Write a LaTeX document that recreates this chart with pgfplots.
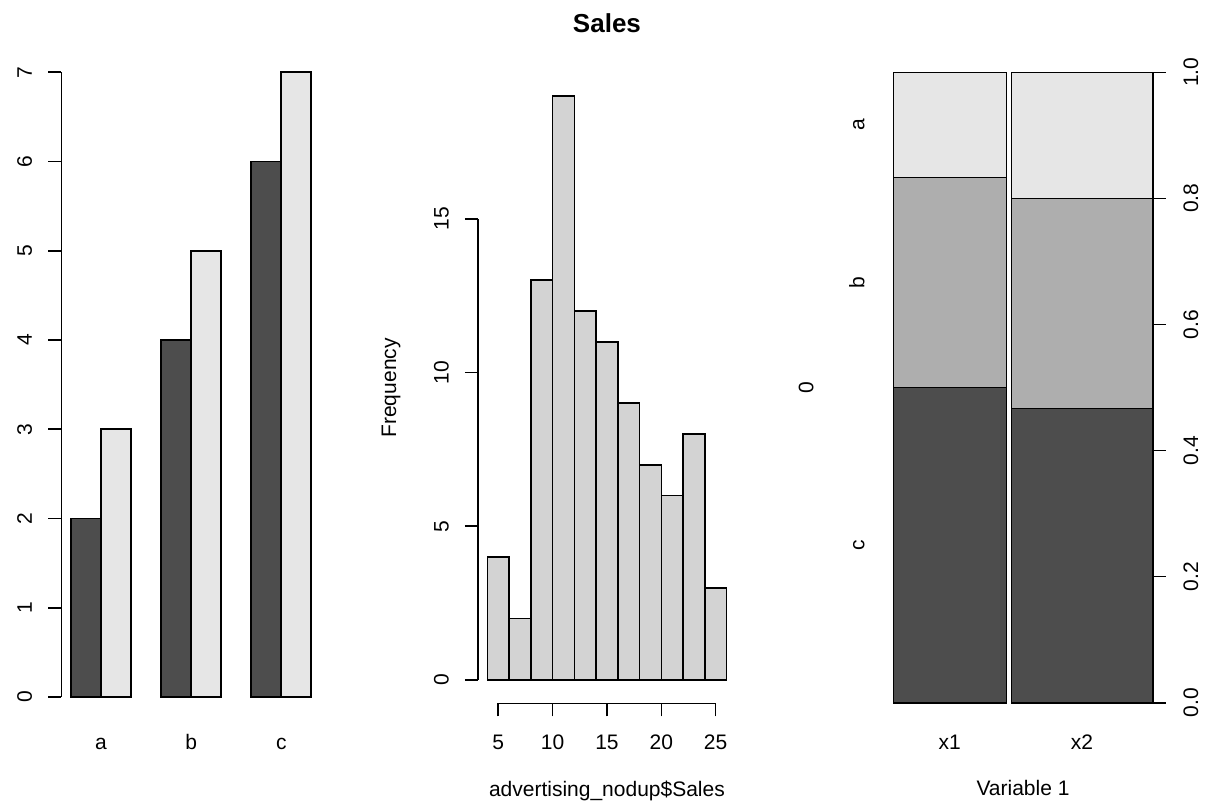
\documentclass[border=0pt]{standalone}
\usepackage{fontspec}
\setmainfont{Liberation Sans}
\usepackage{pgfplots}
\pgfplotsset{compat=1.18}
\definecolor{gdark}{HTML}{4D4D4D}
\definecolor{gmid}{HTML}{AEAEAE}
\definecolor{glight}{HTML}{E6E6E6}
\definecolor{ghist}{HTML}{D3D3D3}
\pgfplotsset{
  rstyle/.style={
    scale only axis, anchor=south west, clip=false,
    /pgf/number format/assume math mode=true,
    font=\fontsize{10.5}{12.6}\selectfont,
    tick label style={font=\fontsize{10.5}{12.6}\selectfont},
    major tick length=6.5pt,
    tick align=outside,
    tick style={black, line width=0.8pt},
    axis line style={line width=0.8pt},
    every axis x label/.style={at={(axis description cs:0.5,0)}, anchor=base, yshift=-46.6pt},
    every axis y label/.style={at={(axis description cs:0,0.5)}, xshift=-40.9pt, rotate=90, anchor=base},
    every axis title/.style={at={(axis description cs:0.5,1)}, anchor=base, yshift=20.05pt, font=\bfseries\fontsize{13}{15}\selectfont},
  }
}
\begin{document}
\begin{tikzpicture}
\path[use as bounding box] (0,0) rectangle (603.5pt,402.5pt);

% ---- left: grouped bar chart
\begin{axis}[rstyle, at={(30.7pt,54pt)}, width=129.75pt, height=312.35pt,
  xmin=0.68, xmax=9.32, ymin=0, ymax=7,
  axis x line*=bottom, axis y line*=left,
  x axis line style={draw=none},
  xtick={2,5,8}, xticklabels={a,b,c}, xtick style={draw=none},
  xticklabel style={anchor=base, yshift=-19.65pt},
  ytick={0,1,2,3,4,5,6,7},
  yticklabel style={anchor=base, xshift=-8.25pt, rotate=90},
]
\addplot[ybar, bar width=1, bar shift=0, fill=gdark, draw=black, line width=0.8pt]
  coordinates {(1.5,2) (4.5,4) (7.5,6)};
\addplot[ybar, bar width=1, bar shift=0, fill=glight, draw=black, line width=0.8pt]
  coordinates {(2.5,3) (5.5,5) (8.5,7)};
\end{axis}

% ---- middle: histogram
\begin{axis}[rstyle, at={(238.9pt,50.8pt)}, width=129.15pt, height=315.5pt,
  xmin=3.12, xmax=26.88, ymin=-0.76, ymax=19.76,
  axis x line*=bottom, axis y line*=left,
  axis line style={draw=none},
  xtick={5,10,15,20,25}, ytick={0,5,10,15},
  xticklabel style={anchor=base, yshift=-16.45pt},
  yticklabel style={anchor=base, xshift=-8.1pt, rotate=90},
  xlabel={advertising\_nodup\$Sales}, ylabel={Frequency},
  title={Sales},
]
\addplot[ybar interval, fill=ghist, draw=black, line width=0.8pt]
  coordinates {(4,4) (6,2) (8,13) (10,19) (12,12) (14,11) (16,9) (18,7) (20,6) (22,8) (24,3) (26,3)};
\draw[line width=0.8pt] (axis cs:3.12,0) -- (axis cs:3.12,15);
\draw[line width=0.8pt] (axis cs:5,-0.76) -- (axis cs:25,-0.76);
\end{axis}

% ---- right: spineplot
\begin{axis}[rstyle, at={(446.65pt,51.15pt)}, width=129.7pt, height=315.2pt,
  xmin=0, xmax=1.02, ymin=0, ymax=1,
  axis x line*=bottom, axis y line*=right,
  x axis line style={draw=none},
  xtick={0.2222,0.7422}, xticklabels={x1,x2}, xtick style={draw=none},
  xticklabel style={anchor=base, yshift=-16.8pt},
  ytick={0,0.2,0.4,0.6,0.8,1},
  yticklabel style={anchor=base, xshift=16.15pt, rotate=90,
    /pgf/number format/fixed, /pgf/number format/fixed zerofill, /pgf/number format/precision=1},
  xlabel={Variable 1}, ylabel={0},
  every axis y label/.style={at={(axis description cs:0,0.5)}, xshift=-40pt, rotate=90, anchor=base},
]
% column x1 (n = 12): c = 6, b = 4, a = 2
\addplot[fill=gdark, draw=black, line width=0.8pt] coordinates {(0,0) (0.4444,0) (0.4444,0.5) (0,0.5)} -- cycle;
\addplot[fill=gmid, draw=black, line width=0.8pt] coordinates {(0,0.5) (0.4444,0.5) (0.4444,0.8333) (0,0.8333)} -- cycle;
\addplot[fill=glight, draw=black, line width=0.8pt] coordinates {(0,0.8333) (0.4444,0.8333) (0.4444,1) (0,1)} -- cycle;
% column x2 (n = 15): c = 7, b = 5, a = 3
\addplot[fill=gdark, draw=black, line width=0.8pt] coordinates {(0.4644,0) (1.02,0) (1.02,0.4667) (0.4644,0.4667)} -- cycle;
\addplot[fill=gmid, draw=black, line width=0.8pt] coordinates {(0.4644,0.4667) (1.02,0.4667) (1.02,0.8) (0.4644,0.8)} -- cycle;
\addplot[fill=glight, draw=black, line width=0.8pt] coordinates {(0.4644,0.8) (1.02,0.8) (1.02,1) (0.4644,1)} -- cycle;
\node[anchor=base, xshift=-14.5pt, rotate=90] at (axis cs:0,0.25) {c};
\node[anchor=base, xshift=-14.5pt, rotate=90] at (axis cs:0,0.6667) {b};
\node[anchor=base, xshift=-14.5pt, rotate=90] at (axis cs:0,0.9167) {a};
\end{axis}
\end{tikzpicture}
\end{document}
